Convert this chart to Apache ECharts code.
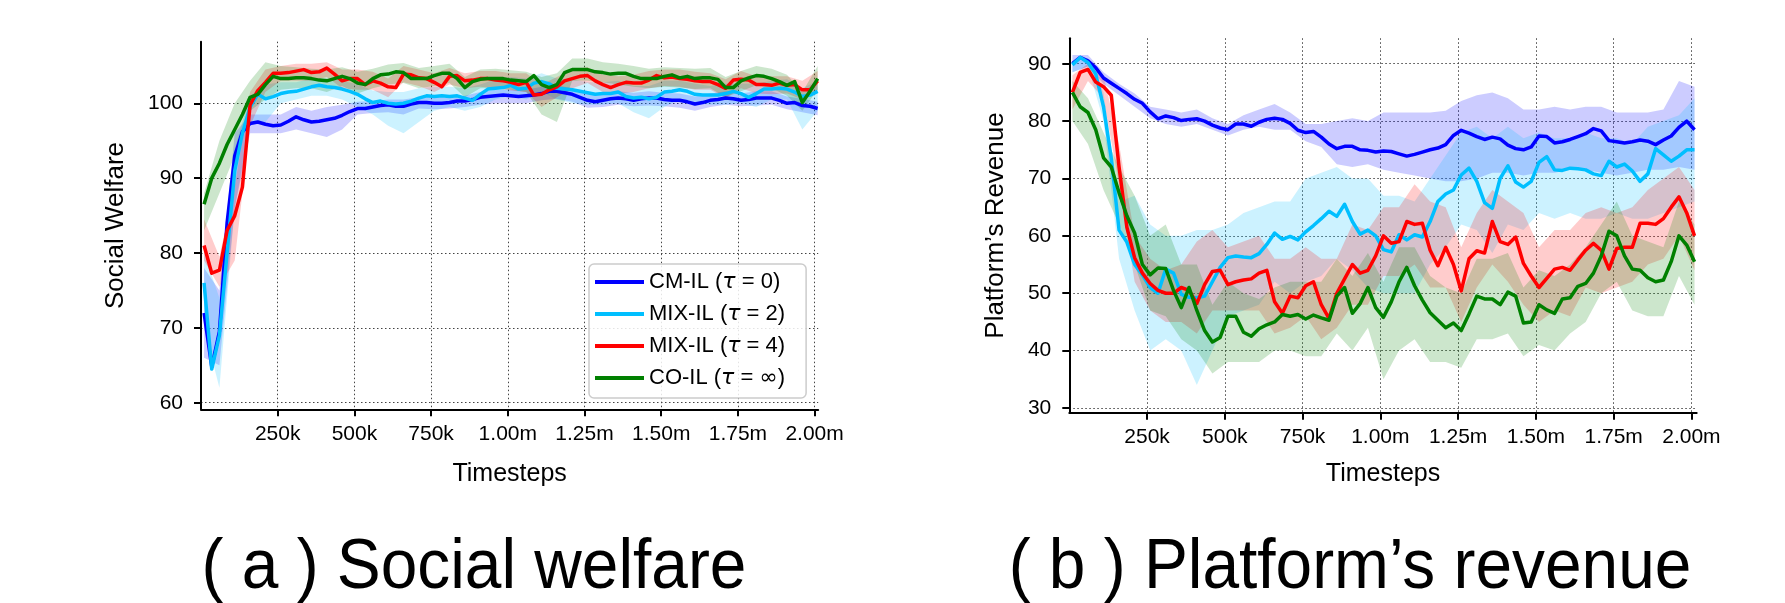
<!DOCTYPE html>
<html><head><meta charset="utf-8">
<script src="https://cdn.jsdelivr.net/npm/echarts@6/dist/echarts.min.js"></script>
<style>html,body{margin:0;padding:0;background:#fff}#c{width:1785px;height:603px}</style>
</head><body><div id="c"></div>
<script>
// ---------------- DATA ----------------
const SERIES_NAMES = ['CM-IL (τ = 0)', 'MIX-IL (τ = 2)', 'MIX-IL (τ = 4)', 'CO-IL (τ = ∞)'];
const COLORS = ['#0000ff', '#00bfff', '#ff0000', '#008000'];
const BAND_COLORS = ['rgba(0,0,255,0.2)', 'rgba(0,191,255,0.2)', 'rgba(255,0,0,0.2)', 'rgba(0,128,0,0.2)'];

// sampling grid (timesteps): lines every 25k from 10k, bands every 50k from 10k
const LINE_START = 10000, LINE_STEP = 25000, LINE_COUNT = 81;
const BAND_START = 10000, BAND_STEP = 50000, BAND_COUNT = 41;

const X_TICKS = [250000, 500000, 750000, 1000000, 1250000, 1500000, 1750000, 2000000];
const X_TICK_LABELS = ['250k', '500k', '750k', '1.00m', '1.25m', '1.50m', '1.75m', '2.00m'];
const Y_TICKS_WELFARE = [60, 70, 80, 90, 100];
const Y_TICKS_REVENUE = [30, 40, 50, 60, 70, 80, 90];

// (a) Social welfare: mean curves
const W_CM = [72, 64.8, 69.5, 84, 93, 96.2, 97.3, 97.5, 97.2, 97.0,
  97.1, 97.6, 98.2, 97.8, 97.5, 97.6, 97.8, 98.0, 98.4, 98.9,
  99.3, 99.3, 99.5, 99.7, 99.8, 99.6, 99.6, 99.9, 100.1, 100.1,
  100.0, 100.0, 100.1, 100.3, 100.3, 100.5, 100.8, 100.9, 101.0, 101.1,
  101.0, 100.9, 101.0, 101.1, 101.3, 101.6, 101.6, 101.4, 101.2, 100.8,
  100.4, 100.2, 100.4, 100.6, 100.7, 100.6, 100.4, 100.6, 100.7, 100.7,
  100.5, 100.4, 100.4, 100.2, 99.9, 100.1, 100.4, 100.5, 100.7, 100.6,
  100.4, 100.5, 100.7, 100.7, 100.7, 100.4, 100.0, 100.1, 99.7, 99.6,
  99.3];
const W_MIX2 = [76, 64.5, 69, 80, 91, 96, 99.5, 101.2, 100.6, 100.9,
  101.3, 101.5, 101.6, 101.9, 102.2, 102.4, 102.2, 102.1, 101.9, 101.6,
  101.2, 100.6, 100.1, 100.3, 100.0, 99.9, 100.0, 100.3, 100.7, 101.0,
  100.9, 101.0, 100.9, 101.0, 100.7, 100.4, 101.2, 101.9, 102.0, 102.1,
  102.4, 101.9, 102.0, 102.7, 102.9, 102.6, 102.0, 101.9, 101.8, 101.6,
  101.4, 101.2, 101.3, 101.3, 101.5, 100.9, 100.7, 100.8, 100.6, 100.8,
  101.5, 101.6, 101.8, 101.6, 101.2, 101.1, 101.1, 101.1, 101.3, 101.6,
  101.3, 100.8, 101.3, 101.9, 101.9, 102.0, 101.9, 101.5, 100.9, 101.1,
  101.6];
const W_MIX4 = [81.0, 77.3, 77.7, 83.0, 85.0, 88.8, 99.8, 101.7, 102.8, 104.0,
  104.0, 104.1, 104.3, 104.5, 104.1, 104.2, 104.7, 103.9, 103.0, 103.3,
  103.3, 102.5, 103.0, 102.7, 102.2, 102.1, 103.9, 103.8, 103.4, 103.3,
  102.8, 102.2, 103.6, 103.7, 103.0, 103.1, 103.3, 103.3, 103.1, 103.0,
  102.8, 102.5, 102.8, 101.1, 101.2, 101.8, 102.2, 103.0, 103.3, 103.6,
  103.7, 103.0, 102.5, 102.1, 102.5, 102.8, 102.7, 102.7, 103.1, 103.7,
  103.4, 103.5, 103.3, 103.2, 103.0, 102.9, 102.9, 102.5, 102.0, 103.1,
  103.2, 103.1, 102.5, 102.5, 102.4, 102.7, 102.4, 102.5, 101.8, 101.8,
  103.0];
const W_CO = [86.5, 90.0, 92.0, 94.5, 96.5, 98.5, 100.8, 101.2, 102.5, 103.6,
  103.3, 103.3, 103.4, 103.4, 103.3, 103.1, 103.0, 103.3, 103.6, 103.3,
  102.7, 102.5, 103.3, 103.8, 103.9, 104.2, 104.1, 103.3, 103.3, 103.3,
  103.7, 104.0, 104.0, 103.3, 102.1, 102.9, 103.2, 103.3, 103.3, 103.3,
  103.1, 103.0, 102.9, 103.7, 102.5, 102.1, 102.5, 104.1, 104.5, 104.5,
  104.5, 104.2, 104.1, 103.9, 104.0, 104.0, 103.6, 103.3, 103.3, 103.3,
  103.6, 103.8, 103.4, 103.6, 103.3, 103.4, 103.4, 103.2, 102.1, 102.1,
  103.0, 103.4, 103.7, 103.6, 103.3, 102.9, 102.4, 102.9, 100.1, 101.6,
  103.3];

// (a) Social welfare: shaded bands (lower / upper)
const WB_CM_LO = [66, 65, 86, 96, 96, 96, 96.5, 96, 95.5, 96.5, 98.5, 98.7, 98.8, 98.5, 99.3, 99.2, 99.3, 99.5, 99.8, 100,
  100, 100, 100.4, 100.6, 100.2, 99.4, 99.5, 99.8, 99.6, 99.7, 99.6, 99.4, 99, 99.5, 99.8, 99.6, 99.7, 99.8, 99.2, 98.8, 98.4];
const WB_CM_HI = [78, 75, 96, 98.5, 98.5, 98.5, 99.5, 99, 99.5, 99.8, 100.2, 100.3, 100.5, 100.5, 100.8, 100.8, 100.8, 101, 101.5, 101.8,
  101.8, 101.8, 102.2, 102.4, 102, 101.4, 101.3, 101.6, 101.4, 101.6, 101.4, 101.3, 100.9, 101.3, 101.6, 101.3, 101.6, 101.6, 100.9, 100.6, 100.2];
const WB_MIX2_LO = [70, 62, 86, 97.5, 97.5, 100, 100.5, 101, 101, 100.5, 99.5, 98.5, 97, 96, 97.5, 99, 99.5, 99, 99.5, 100.5,
  101, 100.5, 101.5, 100.5, 100, 99.8, 99.8, 100, 98.8, 98, 99.5, 100.5, 100, 99.8, 99.8, 100, 99.5, 100.5, 100.5, 96.5, 99];
const WB_MIX2_HI = [80, 74, 94, 101, 102.5, 102.8, 102.8, 103.3, 103.3, 103, 102.5, 101.7, 101.5, 101.5, 102, 102.2, 102.2, 102, 102.5, 103.2,
  103.5, 103.3, 104, 103.3, 103.2, 102.8, 102.8, 103, 102.3, 102.3, 103, 103, 102.6, 102.3, 102.6, 102.6, 102.6, 103, 103.2, 102, 103];
const WB_MIX4_LO = [79, 75.5, 79, 97, 101.5, 103, 103, 103, 103.5, 102, 101.8, 101.8, 100.8, 102.8, 102.3, 101.5, 102.5, 102, 102.2, 102,
  101.7, 101.5, 99.5, 100.8, 102, 102.7, 101.5, 101.3, 101.5, 102, 102.3, 102.2, 101.8, 101.8, 100.7, 102, 101.3, 101.2, 101.3, 100.5, 101.8];
const WB_MIX4_HI = [84.5, 79.5, 89, 101.5, 104.5, 105, 105.3, 105.3, 105.5, 104.5, 104.5, 104.2, 103.3, 105, 104.5, 104, 104.7, 104, 104.3, 104.3,
  104, 104, 102.5, 103.5, 104.5, 104.8, 103.8, 103.6, 103.8, 104.3, 104.5, 104.5, 104.2, 104, 103.2, 104.3, 103.6, 103.6, 103.6, 103, 104.3];
const WB_CO_LO = [83, 88, 93, 99, 100.5, 101.8, 102, 102, 101.5, 102.3, 101.3, 102, 102.5, 102.7, 102, 102.3, 102.7, 100.8, 102, 102,
  101.8, 101.5, 98.5, 97.5, 103, 103, 102.8, 102.5, 102.2, 102, 102.2, 102.1, 101.9, 102, 100.8, 101.6, 102.4, 102, 101, 99, 101.8];
const WB_CO_HI = [88, 95, 100, 103, 105.5, 105, 104.8, 104.6, 104.5, 104.8, 104.2, 104.6, 105.2, 105.4, 104.7, 105, 105.3, 103.5, 104.5, 104.6,
  104.4, 104.2, 103.5, 104, 106, 106, 105.5, 105.3, 105, 104.6, 104.8, 104.7, 104.6, 104.7, 103.5, 104.3, 105, 104.6, 103.8, 101.5, 105];

// (b) Platform's revenue: mean curves
const R_CM = [90.0, 91.1, 90.5, 89.3, 87.5, 86.6, 85.7, 84.8, 83.8, 83.1,
  81.6, 80.4, 80.9, 80.6, 80.1, 80.3, 80.4, 80.0, 79.3, 78.8,
  78.5, 79.5, 79.5, 79.1, 79.8, 80.3, 80.5, 80.3, 79.6, 78.4,
  78.0, 78.2, 77.2, 76.0, 75.2, 75.6, 75.6, 75.0, 74.9, 74.6,
  74.8, 74.7, 74.3, 73.9, 74.2, 74.6, 75.0, 75.3, 75.9, 77.5,
  78.4, 77.9, 77.3, 76.8, 77.2, 76.9, 75.8, 75.2, 75.0, 75.5,
  77.4, 77.3, 76.2, 76.4, 76.8, 77.3, 77.8, 78.7, 78.3, 76.6,
  76.4, 76.2, 76.4, 76.7, 76.5, 75.9, 76.7, 77.4, 78.9, 80.0,
  78.5];
const R_MIX2 = [89.8, 91.1, 90.2, 88.2, 82.5, 73.5, 61.0, 58.9, 55.0, 53.2,
  51.0, 50.0, 54.2, 53.5, 49.8, 49.3, 49.2, 49.5, 52.0, 54.5,
  56.2, 56.5, 56.3, 56.2, 56.9, 58.5, 60.5, 59.4, 59.9, 59.3,
  60.7, 61.8, 63.0, 64.3, 63.4, 65.5, 62.5, 60.3, 61.0, 60.0,
  57.6, 57.2, 60.2, 59.3, 60.2, 59.8, 62.5, 66.0, 67.3, 68.0,
  70.6, 71.8, 69.5, 65.8, 64.8, 70.0, 72.2, 69.4, 68.5, 69.5,
  72.8, 73.8, 71.5, 71.4, 71.8, 71.7, 71.5, 70.8, 70.5, 73.0,
  72.0, 72.5, 71.3, 69.5, 70.8, 75.2, 74.1, 73.0, 73.9, 75.0,
  75.0];
const R_MIX4 = [85.0, 88.5, 89.0, 86.8, 86.0, 84.5, 72.0, 61.5, 56.2, 53.5,
  51.7, 50.5, 50.0, 50.0, 51.0, 50.5, 48.2, 51.5, 53.8, 54.0,
  51.5, 52.0, 52.3, 52.5, 53.5, 54.0, 48.5, 46.5, 49.5, 49.2,
  51.3, 52.0, 48.0, 45.6, 50.0, 52.5, 55.0, 53.5, 54.0, 56.5,
  60.0, 58.7, 59.0, 62.5, 62.0, 62.2, 57.5, 54.8, 58.0, 55.0,
  50.4, 56.0, 57.4, 57.0, 62.5, 59.0, 58.5, 59.8, 55.2, 53.0,
  51.0, 52.6, 54.2, 54.5, 54.0, 55.8, 57.5, 58.7, 57.5, 54.2,
  57.8, 58.0, 58.0, 62.2, 62.2, 62.0, 63.0, 65.0, 66.8, 64.0,
  60.0];
const R_CO = [85.0, 82.5, 81.5, 78.5, 73.6, 72.0, 67.5, 63.5, 60.5, 55.0,
  53.2, 54.4, 54.3, 50.5, 47.5, 51.0, 47.0, 43.5, 41.5, 42.3,
  46.0, 46.0, 43.2, 42.5, 43.8, 44.5, 45.0, 46.3, 46.0, 46.3,
  45.5, 46.2, 45.7, 45.3, 49.5, 51.0, 46.5, 48.2, 51.0, 47.5,
  45.8, 48.5, 52.0, 54.5, 51.3, 48.8, 46.6, 45.3, 44.0, 44.8,
  43.5, 46.4, 49.5, 49.0, 49.0, 48.0, 50.2, 49.5, 44.8, 45.0,
  48.0, 47.1, 46.5, 49.0, 49.2, 51.2, 51.7, 53.5, 56.5, 60.8,
  60.0, 56.5, 54.2, 54.0, 52.7, 52.0, 52.3, 55.5, 60.0, 58.4,
  55.5];

// (b) Platform's revenue: shaded bands (lower / upper)
const RB_CM_LO = [88.5, 89.5, 86.5, 84.5, 82.5, 80.5, 79.5, 79, 79.5, 78.5, 77.5, 78.5, 79, 78.5, 78.5, 76.5, 75.5, 72.5, 72, 72.5,
  71.5, 71, 70.5, 70, 69.5, 69.5, 70, 71, 71, 70.5, 71, 71, 71.5, 71.5, 71, 70.5, 71, 71.5, 71.5, 72, 71.5];
const RB_CM_HI = [91.5, 91.5, 88.5, 86.5, 84.8, 82.5, 82, 81.5, 82, 80.5, 79.5, 81, 82, 83, 81.5, 79.5, 79.5, 80, 80.5, 80,
  81.5, 81.5, 81.5, 81.5, 81.8, 83.5, 84.5, 85, 84, 82, 82, 82.5, 82, 82.5, 82.5, 81.5, 81.5, 81.5, 82, 87, 86];
const RB_MIX2_LO = [88.5, 89.5, 80, 56, 47, 40, 42, 40, 34, 40, 46, 47, 48, 52, 50, 52, 53, 56, 54, 51,
  50, 50, 50, 55, 58, 62, 61, 57, 62, 61, 64, 63, 64, 63, 63, 64, 63, 63, 64, 65, 66];
const RB_MIX2_HI = [90.5, 91, 85, 66, 67, 62, 60, 60, 61, 61, 62, 64, 65, 66, 66, 70, 71, 72, 70, 70,
  67, 67, 66, 70, 74, 78, 79, 77, 79, 77, 78, 77, 77, 78, 77, 77, 76, 79, 80, 81, 84];
const RB_MIX4_LO = [82, 87, 84, 69, 52, 47, 45, 45, 43, 47, 47, 47, 47, 43, 44, 46, 42, 44, 48, 48,
  53, 53, 55, 51, 51, 45, 51, 55, 52, 48, 45, 47, 46, 51, 50, 51, 52, 55, 56, 60, 54];
const RB_MIX4_HI = [88, 90, 88, 76, 60, 56, 54, 55, 59, 61, 58, 59, 60, 56, 56, 58, 56, 56, 62, 61,
  65, 65, 69, 66, 65, 58, 64, 68, 66, 64, 58, 61, 61, 64, 65, 64, 65, 68, 70, 72, 68];
const RB_CO_LO = [80, 76, 68, 62, 55, 47, 46, 42, 40, 36, 38, 38, 38, 40, 40, 39, 39, 43, 40, 44,
  35, 40, 42, 38, 38, 37, 42, 42, 43, 39, 41, 40, 43, 45, 50, 52, 47, 46, 46, 53, 48];
const RB_CO_HI = [87, 84, 78, 72, 67, 60, 62, 55, 55, 48, 52, 50, 49, 51, 52, 52, 52, 56, 53, 57,
  52, 58, 58, 53, 51, 50, 56, 56, 57, 51, 54, 53, 55, 58, 62, 66, 60, 59, 58, 66, 62];

// ---------------- CHART ----------------
const FONT = "'Liberation Sans', Arial, Helvetica, sans-serif";
const lineX = Array.from({length: LINE_COUNT}, (_, i) => LINE_START + i * LINE_STEP);
const bandX = Array.from({length: BAND_COUNT}, (_, i) => BAND_START + i * BAND_STEP);

const welfareLines = [W_CM, W_MIX2, W_MIX4, W_CO];
const welfareBands = [[WB_CM_LO, WB_CM_HI], [WB_MIX2_LO, WB_MIX2_HI], [WB_MIX4_LO, WB_MIX4_HI], [WB_CO_LO, WB_CO_HI]];
const revenueLines = [R_CM, R_MIX2, R_MIX4, R_CO];
const revenueBands = [[RB_CM_LO, RB_CM_HI], [RB_MIX2_LO, RB_MIX2_HI], [RB_MIX4_LO, RB_MIX4_HI], [RB_CO_LO, RB_CO_HI]];

function bandSeries(idx, lo, hi, gi) {
  return {
    type: 'custom', name: 'band' + gi + '_' + idx, xAxisIndex: gi, yAxisIndex: gi,
    silent: true, z: 1, animation: false,
    data: bandX.map((x, i) => [x, lo[i], hi[i]]),
    encode: {x: 0, y: [1, 2]},
    renderItem: function (params, api) {
      if (params.dataIndex !== 0) return null;
      const pts = [];
      for (let i = 0; i < bandX.length; i++) pts.push(api.coord([bandX[i], hi[i]]));
      for (let i = bandX.length - 1; i >= 0; i--) pts.push(api.coord([bandX[i], lo[i]]));
      return {type: 'polygon', shape: {points: pts}, style: {fill: BAND_COLORS[idx], stroke: null}};
    }
  };
}
function lineSeries(idx, vals, gi) {
  return {
    type: 'line', name: SERIES_NAMES[idx], xAxisIndex: gi, yAxisIndex: gi,
    data: lineX.map((x, i) => [x, vals[i]]),
    showSymbol: false, symbol: 'none', z: 2, animation: false,
    itemStyle: {color: COLORS[idx]},
    lineStyle: {color: COLORS[idx], width: 3.5, join: 'round'}
  };
}
function xAxisCfg(gi, max, gap) {
  return {
    type: 'value', gridIndex: gi, min: 0, max: max,
    name: 'Timesteps', nameLocation: 'middle', nameGap: gap,
    nameTextStyle: {fontSize: 25, fontFamily: FONT, color: '#000'},
    axisLine: {show: true, onZero: false, lineStyle: {color: '#000', width: 2}},
    axisTick: {show: true, length: 7, customValues: X_TICKS, lineStyle: {color: '#000', width: 2}},
    axisLabel: {customValues: X_TICKS, fontSize: 21, fontFamily: FONT, color: '#000', margin: 14,
      formatter: v => { const k = X_TICKS.indexOf(v); return k >= 0 ? X_TICK_LABELS[k] : ''; }},
    splitLine: {show: true, lineStyle: {color: '#444', width: 1, type: [1.5, 2.5]}}
  };
}
function yAxisCfg(gi, min, max, ticks, name, gap) {
  return {
    type: 'value', gridIndex: gi, min: min, max: max,
    name: name, nameLocation: 'middle', nameGap: gap, nameRotate: 90,
    nameTextStyle: {fontSize: 26, fontFamily: FONT, color: '#000'},
    axisLine: {show: true, lineStyle: {color: '#000', width: 2}},
    axisTick: {show: true, length: 7, customValues: ticks, lineStyle: {color: '#000', width: 2}},
    axisLabel: {customValues: ticks, fontSize: 21, fontFamily: FONT, color: '#000', margin: 18},
    splitLine: {show: true, lineStyle: {color: '#444', width: 1, type: [1.5, 2.5]}}
  };
}

const series = [];
welfareBands.forEach((b, i) => series.push(bandSeries(i, b[0], b[1], 0)));
revenueBands.forEach((b, i) => series.push(bandSeries(i, b[0], b[1], 1)));
welfareLines.forEach((v, i) => series.push(lineSeries(i, v, 0)));
revenueLines.forEach((v, i) => series.push(lineSeries(i, v, 1)));

const option = {
  backgroundColor: '#fff',
  animation: false,
  grid: [
    {left: 201, top: 41.7, width: 617.2, height: 367.6},
    {left: 1069.3, top: 38.3, width: 627.4, height: 374.4}
  ],
  xAxis: [xAxisCfg(0, 2011700, 52), xAxisCfg(1, 2017000, 49)],
  yAxis: [
    yAxisCfg(0, 59.12, 108.23, Y_TICKS_WELFARE, 'Social Welfare', 72),
    yAxisCfg(1, 29.18, 94.43, Y_TICKS_REVENUE, 'Platform\u2019s Revenue', 60)
  ],
  legend: {
    data: SERIES_NAMES, orient: 'vertical', left: 589, top: 264,
    icon: 'rect', itemWidth: 49, itemHeight: 4, itemGap: 8, itemTextGap: 15,
    padding: [6, 21, 8, 6], selectedMode: false,
    backgroundColor: 'rgba(255,255,255,0.85)', borderColor: '#cccccc', borderWidth: 1.5, borderRadius: 5,
    textStyle: {
      fontSize: 22, fontFamily: FONT, color: '#000', lineHeight: 24,
      rich: {
        n: {fontSize: 22, fontFamily: FONT, color: '#000', lineHeight: 24},
        t: {fontSize: 22, fontFamily: "'DejaVu Sans'", fontStyle: 'italic', color: '#000', lineHeight: 24},
        m: {fontSize: 22, fontFamily: "'DejaVu Sans'", color: '#000', lineHeight: 24}
      }
    },
    formatter: name => '{n|' + name.replace('τ', '}{t|τ}{n|').replace('∞', '}{m|∞}{n|') + '}'
  },
  graphic: [
    {type: 'text', x: 474, y: 569, scaleX: 0.94, style: {text: '( a ) Social welfare', fontSize: 70, fontFamily: FONT, fill: '#000', align: 'center', verticalAlign: 'middle'}},
    {type: 'text', x: 1350, y: 569, scaleX: 0.94, style: {text: '( b ) Platform\u2019s revenue', fontSize: 70, fontFamily: FONT, fill: '#000', align: 'center', verticalAlign: 'middle'}}
  ],
  series: series
};
const chart = echarts.init(document.getElementById('c'), null, {renderer: 'canvas'});
chart.setOption(option);
</script></body></html>
